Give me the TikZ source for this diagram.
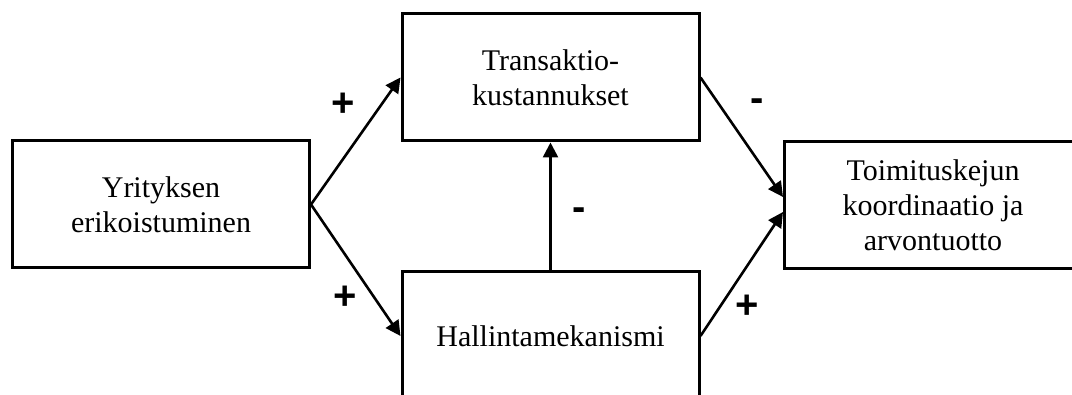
\documentclass[tikz,border=0pt]{standalone}
\usepackage{fontspec}
\setmainfont{Liberation Serif}
\newfontfamily\signfont{Liberation Sans}
\usetikzlibrary{arrows.meta}

\begin{document}
\begin{tikzpicture}[x=0.5pt,y=-0.5pt,>={Triangle[length=7.5pt,width=7.5pt]}]
  \useasboundingbox (0,0) rectangle (1072,395);
  \tikzset{box/.style={draw,line width=1.5pt,minimum width=148.5pt,minimum height=63.5pt,align=center,font=\fontsize{15}{17.5}\selectfont},
           sign/.style={font=\signfont\bfseries\fontsize{20}{20}\selectfont,inner sep=0pt},
           link/.style={->,line width=1.3pt}}
  \node[box] (spec) at (161,204.5) {Yrityksen\\erikoistuminen};
  \node[box] (trans) at (550.5,77.5) {Transaktio-\\kustannukset};
  \node[box,minimum height=64pt] (govern) at (550.5,336) {Hallintamekanismi};
  \node[box] (chain) at (933,205) {Toimituskejun\\koordinaatio ja\\arvontuotto};
  \draw[link] (spec.east) -- (trans.west);
  \draw[link] (spec.east) -- (govern.west);
  \draw[link] (govern.north) -- (trans.south);
  \draw[link] (trans.east) -- ([yshift=4pt]chain.west);
  \draw[link] (govern.east) -- ([yshift=-3.5pt]chain.west);
  % signs of the effects
  \node[sign] (pa) at (343,105) {+};
  \node[sign] (pb) at (345,298) {+};
  \node[sign] (ma) at (579,214) {-};
  \node[sign] (mb) at (757,105) {-};
  \node[sign] (pc) at (747,307) {+};
\end{tikzpicture}
\end{document}
